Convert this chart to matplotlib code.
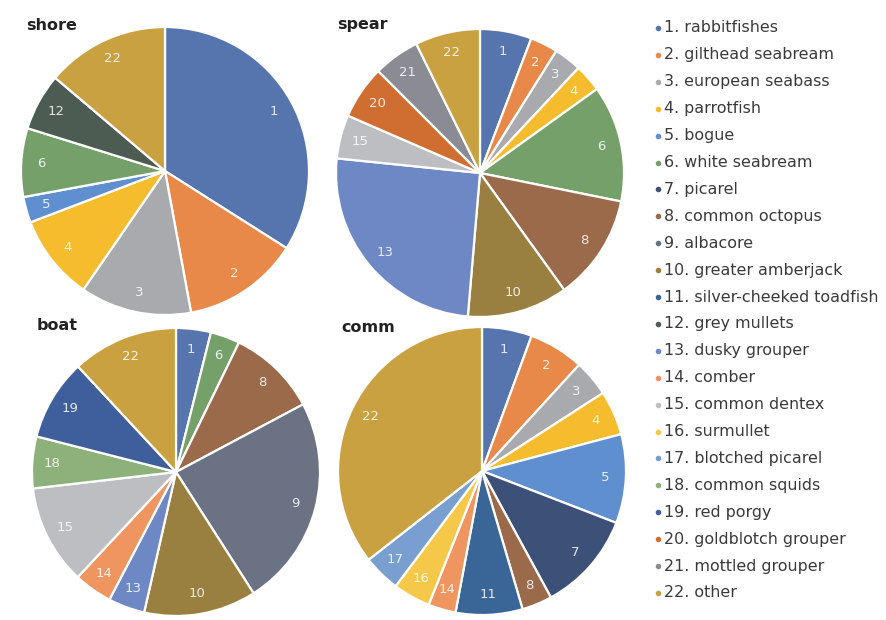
import matplotlib
matplotlib.use("Agg")
import matplotlib.pyplot as plt
from matplotlib.lines import Line2D
import numpy as np

plt.rcParams['font.family'] = ['DejaVu Sans']

# Species legend (numbered categories)
species = [
    "rabbitfishes", "gilthead seabream", "european seabass", "parrotfish",
    "bogue", "white seabream", "picarel", "common octopus", "albacore",
    "greater amberjack", "silver-cheeked toadfish", "grey mullets",
    "dusky grouper", "comber", "common dentex", "surmullet",
    "blotched picarel", "common squids", "red porgy", "goldblotch grouper",
    "mottled grouper", "other",
]

# Category colours (index = category number - 1)
colors = [
    "#5674ae", "#e8894a", "#a9aaad", "#f5bd2e", "#5f8fcf", "#76a06a",
    "#3d5078", "#9b6a4b", "#6b7283", "#9a8040", "#3a6597", "#4c5c52",
    "#6e88c6", "#ee9560", "#bdbec2", "#f5c84a", "#789fd0", "#8db17a",
    "#3f5f9c", "#cf6e30", "#8a8b93", "#c9a140",
]

# Share of catch (%) per fishing type, by category number
shore_cats = [1, 2, 3, 4, 5, 6, 12, 22]
shore_vals = [34.0, 13.1, 12.5, 9.6, 2.9, 7.7, 6.4, 13.8]

spear_cats = [1, 2, 3, 4, 6, 8, 10, 13, 15, 20, 21, 22]
spear_vals = [5.8, 3.1, 3.1, 3.1, 13.1, 11.9, 11.3, 25.3, 4.9, 6.0, 5.2, 7.3]

boat_cats = [1, 6, 8, 9, 10, 13, 14, 15, 18, 19, 22]
boat_vals = [3.9, 3.3, 10.0, 23.7, 12.6, 4.1, 4.3, 11.2, 5.8, 9.1, 11.9]

comm_cats = [1, 2, 3, 4, 5, 7, 8, 11, 14, 16, 17, 22]
comm_vals = [5.6, 6.2, 4.1, 5.0, 10.0, 11.2, 3.4, 7.5, 3.1, 4.2, 4.2, 35.6]

W, H = 887, 620
fig = plt.figure(figsize=(W / 100, H / 100), dpi=100)


def pie_axes(cx, cy, r):
    return fig.add_axes([(cx - r) / W, 1 - (cy + r) / H, 2 * r / W, 2 * r / H])


panels = [
    ("shore", shore_cats, shore_vals, (165, 171, 144), (26, 26)),
    ("spear", spear_cats, spear_vals, (480, 173, 144), (337, 25)),
    ("boat", boat_cats, boat_vals, (176, 472, 144), (37, 326)),
    ("comm", comm_cats, comm_vals, (482, 471, 144), (341, 327)),
]

for title, cats, vals, (cx, cy, r), (tx, ty) in panels:
    ax = pie_axes(cx, cy, r)
    wedges, _ = ax.pie(
        vals, colors=[colors[c - 1] for c in cats], startangle=90,
        counterclock=False, radius=1.0,
        wedgeprops=dict(edgecolor="white", linewidth=1.6),
    )
    for w, c in zip(wedges, cats):
        th = np.deg2rad((w.theta1 + w.theta2) / 2)
        ax.text(0.86 * np.cos(th), 0.86 * np.sin(th), str(c),
                ha="center", va="center", color="white", fontsize=9.5,
                alpha=0.85)
    ax.set_xlim(-1, 1)
    ax.set_ylim(-1, 1)
    ax.set_aspect("equal")
    ax.axis("off")
    fig.text(tx / W, 1 - ty / H, title, ha="left", va="center",
             fontsize=11.5, fontweight="bold", color="#222222")

# Legend column
y0, dy = 28, 26.9
for i, name in enumerate(species):
    y = 1 - (y0 + i * dy) / H
    fig.add_artist(Line2D([658 / W], [y], marker="o", markersize=3,
                          color=colors[i], linestyle="none",
                          transform=fig.transFigure))
    fig.text(664 / W, y, f"{i + 1}. {name}", ha="left", va="center",
             fontsize=11.4, color="#3a3a3a")

fig.savefig("out.png", dpi=100)
